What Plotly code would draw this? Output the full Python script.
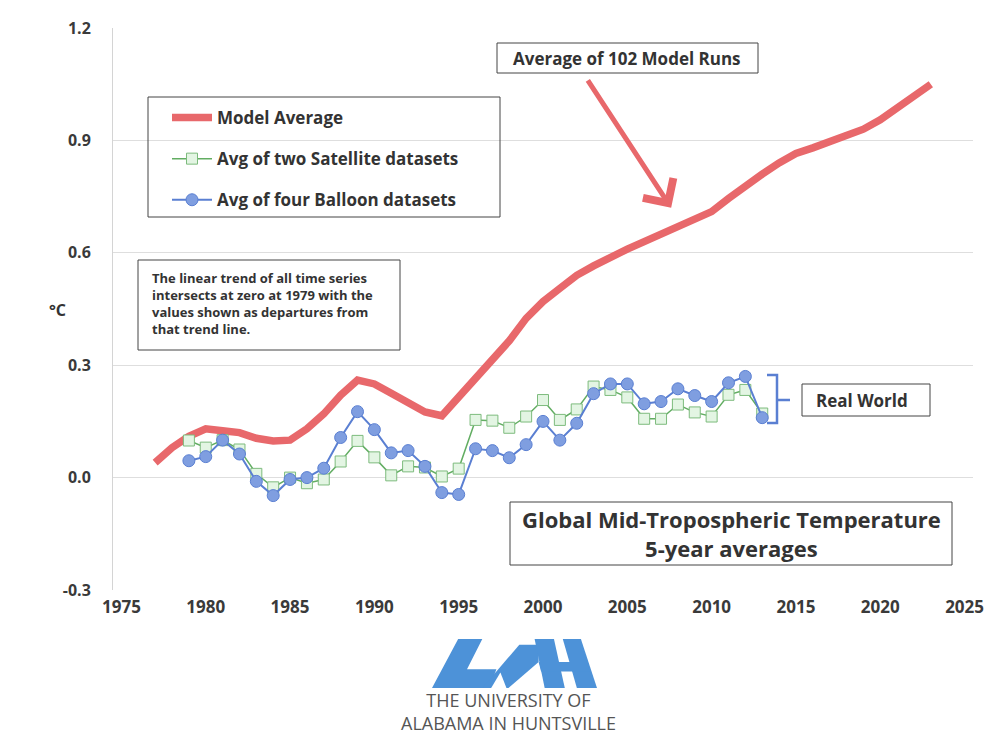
import plotly.graph_objects as go

# ---------------- data ----------------
model_years = list(range(1977, 2024))
model_avg = [0.04, 0.08, 0.11, 0.13, 0.125, 0.12, 0.105, 0.098, 0.10, 0.13,
             0.17, 0.22, 0.26, 0.25, 0.225, 0.20, 0.175, 0.165, 0.215, 0.265,
             0.315, 0.365, 0.425, 0.47, 0.505, 0.54, 0.565, 0.59, 0.61, 0.63,
             0.65, 0.675, 0.69, 0.71, 0.745, 0.78, 0.81, 0.84, 0.865, 0.88,
             0.895, 0.91, 0.93, 0.955, 0.985, 1.02, 1.05]

obs_years = list(range(1979, 2014))
satellite = [0.099, 0.08, 0.10, 0.075, 0.01, -0.026, 0.0, -0.015, -0.005, 0.043,
             0.098, 0.054, 0.006, 0.03, 0.027, 0.003, 0.024, 0.154, 0.152, 0.133,
             0.163, 0.207, 0.154, 0.182, 0.243, 0.234, 0.214, 0.157, 0.157, 0.195,
             0.174, 0.163, 0.221, 0.234, 0.171]
balloon = [0.045, 0.056, 0.10, 0.063, -0.01, -0.048, -0.005, 0.0, 0.025, 0.107,
           0.176, 0.128, 0.066, 0.072, 0.03, -0.04, -0.045, 0.077, 0.072, 0.053,
           0.088, 0.15, 0.10, 0.145, 0.224, 0.25, 0.25, 0.197, 0.203, 0.237,
           0.219, 0.203, 0.253, 0.27, 0.16]

x_ticks = [1975, 1980, 1985, 1990, 1995, 2000, 2005, 2010, 2015, 2020, 2025]
y_ticks = [-0.3, 0.0, 0.3, 0.6, 0.9, 1.2]
y_tick_text = ["-0.3", "0.0", "0.3", "0.6", "0.9", "1.2"]

# ---------------- layout geometry ----------------
OFF = 8                      # page body margin
W, H = 997, 730
L, R, T, B = 105, 32, 20, 148
PW, PH = W - L - R, H - T - B


def px(x):                   # window pixel -> paper
    return (x - OFF - L) / PW


def py(y):
    return (H - B - (y - OFF)) / PH


FONT = "Open Sans"
TXT = "#333333"
RED = "#e8686b"
GREEN = "#62ad62"
BLUE = "#5a7fd2"

fig = go.Figure()
fig.add_trace(go.Scatter(
    x=model_years, y=model_avg, mode="lines", name="Model Average",
    line=dict(color=RED, width=7.5), legendgroup="a"))
fig.add_trace(go.Scatter(
    x=obs_years, y=satellite, mode="lines+markers",
    name="Avg of two Satellite datasets",
    line=dict(color=GREEN, width=1.5),
    marker=dict(symbol="square", size=11, color="#e3f5e3",
                line=dict(color="#7dbb7d", width=1)), legendgroup="b"))
fig.add_trace(go.Scatter(
    x=obs_years, y=balloon, mode="lines+markers",
    name="Avg of four Balloon datasets",
    line=dict(color=BLUE, width=2),
    marker=dict(symbol="circle", size=12, color="#7f9ee0",
                line=dict(color="#5a7fd2", width=1)), legendgroup="c"))

shapes = []
annotations = []


def box(x0, y0, x1, y1, color="#444444", width=1):
    shapes.append(dict(type="rect", xref="paper", yref="paper",
                       x0=px(x0), x1=px(x1), y0=py(y1), y1=py(y0),
                       line=dict(color=color, width=width),
                       fillcolor="rgba(255,255,255,0)", layer="above"))


def text(x, y, s, size, bold=True, color=TXT, align="center", xanchor="center", family=FONT):
    annotations.append(dict(xref="paper", yref="paper", x=px(x), y=py(y),
                            text=(f"<b>{s}</b>" if bold else s), showarrow=False,
                            xanchor=xanchor, yanchor="middle", align=align,
                            font=dict(family=family, size=size, color=color)))


# legend box
box(148, 97, 500, 217)
# note box
box(138, 260, 400, 350)
text(150, 303, "The linear trend of all time series<br>intersects at zero at 1979 with the"
     "<br>values shown as departures from<br>that trend line.", 13,
     align="left", xanchor="left")
# model runs box
box(497, 43, 758, 73)
text(627, 58, "Average of 102 Model Runs", 17)
# real world
box(802, 384, 930, 416)
text(862, 400, "Real World", 17)
shapes.append(dict(type="path", xref="paper", yref="paper",
                   path=(f"M {px(767)},{py(375)} L {px(777)},{py(375)} L {px(777)},{py(423)} "
                         f"L {px(767)},{py(423)} M {px(777)},{py(400)} L {px(790)},{py(400)}"),
                   line=dict(color=BLUE, width=2.5)))
# title box
box(510, 502, 952, 565)
text(731, 533, "Global Mid-Tropospheric Temperature<br>5-year averages", 22)
# y-axis unit
text(57, 310, "°C", 16)

# arrow
annotations.append(dict(xref="x", yref="y", axref="x", ayref="y",
                        x=2007.6, y=0.72, ax=2002.6, ay=1.064, text="",
                        showarrow=True, arrowhead=4, arrowsize=1.4, arrowwidth=5,
                        arrowcolor=RED))

# UAH logo (decorative)
LOGO = "#4d92d8"


def zp(pts):
    p = []
    for i, (a, b) in enumerate(pts):
        X = px(432 + (a - 175) * 165 / 410)
        Y = py(639 + (b - 75) * 49 / 113)
        p.append(("M " if i == 0 else "L ") + f"{X},{Y}")
    return " ".join(p) + " Z"


logo_polys = [
    [(175, 188), (240, 75), (300, 75), (262, 145), (335, 145), (318, 188)],
    [(300, 188), (392, 88), (440, 88), (440, 128), (365, 188)],
    [(430, 75), (478, 75), (505, 188), (455, 188)],
    [(500, 75), (545, 75), (585, 188), (535, 188)],
    [(440, 128), (560, 128), (566, 150), (446, 150)],
]
for poly in logo_polys:
    shapes.append(dict(type="path", xref="paper", yref="paper", path=zp(poly),
                       fillcolor=LOGO, line=dict(width=0), layer="above"))
shapes.append(dict(type="path", xref="paper", yref="paper",
                   path=zp([(322, 188), (345, 152), (360, 188)]),
                   fillcolor="white", line=dict(width=0), layer="above"))
text(508, 711, "THE UNIVERSITY OF<br>ALABAMA IN HUNTSVILLE", 18, bold=False, color="#555555")

fig.update_layout(
    width=W, height=H, margin=dict(l=L, r=R, t=T, b=B, autoexpand=False),
    paper_bgcolor="white", plot_bgcolor="white",
    font=dict(family=FONT, color=TXT),
    showlegend=True,
    legend=dict(x=px(167), y=py(100), xanchor="left", yanchor="top",
                bgcolor="rgba(0,0,0,0)", borderwidth=0, tracegroupgap=16,
                font=dict(family=FONT, size=17, color=TXT, weight="bold"),
                itemwidth=40),
    shapes=shapes, annotations=annotations,
    xaxis=dict(range=[1974.5, 2025.5], tickvals=x_ticks, showgrid=False,
               zeroline=False, showline=False, ticks="",
               tickfont=dict(family=FONT, size=17, color="#3a3a3a", weight="bold"),
               ticklabelstandoff=5),
    yaxis=dict(range=[-0.3, 1.2], tickvals=y_ticks, ticktext=y_tick_text,
               showgrid=True, gridcolor="#dedede", gridwidth=1,
               zeroline=False, showline=True, linecolor="#d4d4d4", ticks="",
               tickfont=dict(family=FONT, size=16, color="#3a3a3a", weight="bold"),
               ticklabelstandoff=18),
)

fig.write_html("out.html")
